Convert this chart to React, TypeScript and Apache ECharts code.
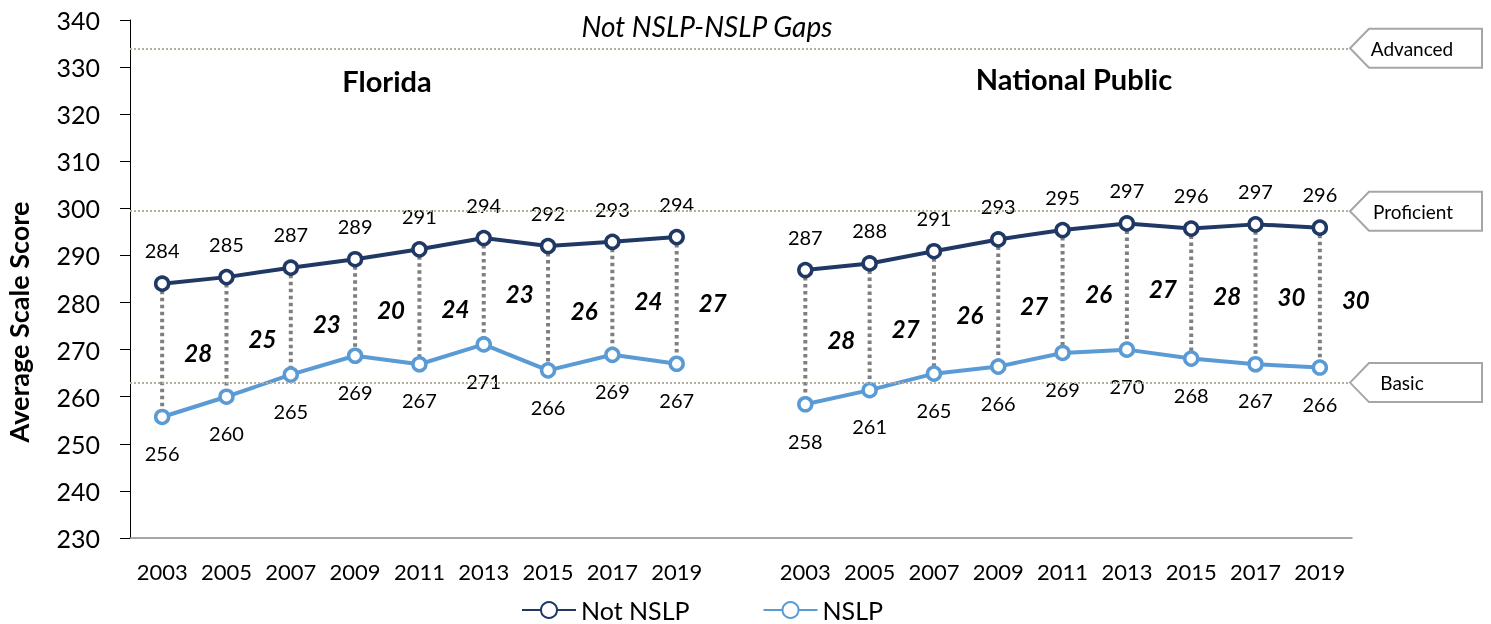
import React, { useEffect, useRef } from "react";
import * as echarts from "echarts";

const years = ["2003", "2005", "2007", "2009", "2011", "2013", "2015", "2017", "2019"];
const floridaNotNslp = [284.0, 285.4, 287.4, 289.2, 291.3, 293.7, 292.0, 292.9, 293.9];
const floridaNslp = [255.7, 260.0, 264.7, 268.7, 266.9, 271.1, 265.6, 268.9, 267.0];
const nationalNotNslp = [286.9, 288.3, 290.9, 293.4, 295.4, 296.8, 295.7, 296.6, 295.9];
const nationalNslp = [258.4, 261.4, 264.9, 266.4, 269.3, 270.0, 268.1, 266.9, 266.2];
const floridaGaps = [28, 25, 23, 20, 24, 23, 26, 24, 27];
const nationalGaps = [28, 27, 26, 27, 26, 27, 28, 30, 30];
const yMin = 230;
const yMax = 340;
const yInterval = 10;
const levelNames = ["Advanced", "Proficient", "Basic"];
const levelValues = [334, 299.4, 263];
const panelTitles = ["Florida", "National Public"];
const seriesNames = ["Not NSLP", "NSLP"];
const subtitle = "Not NSLP-NSLP Gaps";
const yTitle = "Average Scale Score";

const FONT = "Lato";
const NAVY = "#203864";
const LIGHT = "#5b9bd5";

export default function App() {
  const ref = useRef<HTMLDivElement>(null);
  useEffect(() => {
    if (!ref.current) return;
    const chart = echarts.init(ref.current, null, { renderer: "svg" });
    const categories = [...years, "", ...years];
    const notData = [...floridaNotNslp, null, ...nationalNotNslp];
    const nslpData = [...floridaNslp, null, ...nationalNslp];
    const gapData: any[] = [];
    years.forEach((_, i) => {
      gapData.push([i, floridaNotNslp[i], floridaNslp[i], floridaGaps[i]]);
    });
    years.forEach((_, i) => {
      gapData.push([years.length + 1 + i, nationalNotNslp[i], nationalNslp[i], nationalGaps[i]]);
    });

    const option: any = {
      animation: false,
      grid: { left: 130, right: 139, top: 20, bottom: 86 },
      legend: {
        data: seriesNames,
        left: 521,
        top: 597,
        padding: 0,
        itemWidth: 54,
        itemHeight: 20,
        itemGap: 73,
        textStyle: { fontFamily: FONT, fontSize: 25, color: "#000", lineHeight: 26 },
      },
      xAxis: {
        type: "category",
        data: categories,
        boundaryGap: true,
        axisLine: { lineStyle: { color: "#898989", width: 1.5 } },
        axisTick: { alignWithLabel: true, length: 6, interval: 0, lineStyle: { color: "#898989", width: 1.5 } },
        axisLabel: { interval: 0, margin: 22, fontFamily: FONT, fontSize: 22, color: "#000" },
      },
      yAxis: {
        type: "value",
        min: yMin,
        max: yMax,
        interval: yInterval,
        splitLine: { show: false },
        axisLine: { show: true, lineStyle: { color: "#000", width: 1 } },
        axisTick: { show: true, length: 10, lineStyle: { color: "#000" } },
        axisLabel: { margin: 30, fontFamily: FONT, fontSize: 25, color: "#000" },
      },
      series: [
        {
          type: "custom",
          name: "gaps",
          z: 1,
          silent: true,
          encode: { x: 0, y: [1, 2] },
          data: gapData,
          renderItem: (params: any, api: any) => {
            const x = api.value(0);
            const top = api.coord([x, api.value(1)]);
            const bot = api.coord([x, api.value(2)]);
            const w = api.size([1, 0])[0];
            return {
              type: "group",
              children: [
                {
                  type: "line",
                  shape: { x1: top[0], y1: top[1], x2: bot[0], y2: bot[1] },
                  style: { stroke: "#7f7f7f", lineWidth: 4, lineDash: [3.5, 3.5] },
                },
                {
                  type: "text",
                  x: top[0] + w * 0.56,
                  y: (top[1] + bot[1]) / 2 + 2,
                  style: {
                    text: String(api.value(3)),
                    fontFamily: FONT,
                    fontSize: 24,
                    fontWeight: "bold",
                    fontStyle: "italic",
                    fill: "#000",
                    align: "center",
                    verticalAlign: "middle",
                  },
                },
              ],
            };
          },
          markLine: {
            silent: true,
            symbol: "none",
            label: { show: false },
            lineStyle: { type: [2, 2], color: "#b5ad9d", width: 2 },
            data: levelValues.map((v) => ({ yAxis: v })),
          },
        },
        {
          type: "line",
          name: seriesNames[0],
          z: 3,
          data: notData,
          color: NAVY,
          symbol: "circle",
          symbolSize: 13,
          showAllSymbol: true,
          connectNulls: false,
          lineStyle: { color: NAVY, width: 4 },
          itemStyle: { color: "#fff", borderColor: NAVY, borderWidth: 3.5 },
          label: {
            show: true,
            position: "top",
            distance: 15,
            fontFamily: FONT,
            fontSize: 20,
            color: "#000",
            formatter: (p: any) => String(Math.round(p.value)),
          },
        },
        {
          type: "line",
          name: seriesNames[1],
          z: 3,
          data: nslpData,
          color: LIGHT,
          symbol: "circle",
          symbolSize: 13,
          showAllSymbol: true,
          connectNulls: false,
          lineStyle: { color: LIGHT, width: 4 },
          itemStyle: { color: "#fff", borderColor: LIGHT, borderWidth: 3.5 },
          label: {
            show: true,
            position: "bottom",
            distance: 18,
            fontFamily: FONT,
            fontSize: 20,
            color: "#000",
            formatter: (p: any) => String(Math.round(p.value)),
          },
        },
      ],
    };
    chart.setOption(option);

    const textX = [1412, 1413, 1402];
    const elements: any[] = [
      {
        type: "text",
        x: 18,
        y: 322,
        rotation: Math.PI / 2,
        style: { text: yTitle, fontFamily: FONT, fontSize: 27, fontWeight: "bold", fill: "#000", align: "center", verticalAlign: "middle" },
      },
      {
        type: "text",
        x: 707,
        y: 26,
        style: { text: subtitle, fontFamily: FONT, fontSize: 28, fontStyle: "italic", fill: "#000", align: "center", verticalAlign: "middle" },
      },
      {
        type: "text",
        x: 387,
        y: 80,
        style: { text: panelTitles[0], fontFamily: FONT, fontSize: 29, fontWeight: "bold", fill: "#000", align: "center", verticalAlign: "middle" },
      },
      {
        type: "text",
        x: 1074,
        y: 78,
        style: { text: panelTitles[1], fontFamily: FONT, fontSize: 29, fontWeight: "bold", fill: "#000", align: "center", verticalAlign: "middle" },
      },
    ];
    levelValues.forEach((v, i) => {
      const y = chart.convertToPixel({ yAxisIndex: 0 }, v) as number;
      const h = 19.5;
      elements.push({
        type: "polygon",
        z: 10,
        shape: { points: [[1350, y], [1369, y - h], [1482, y - h], [1482, y + h], [1369, y + h]] },
        style: { fill: "#fff", stroke: "#a6a6a6", lineWidth: 2 },
      });
      elements.push({
        type: "text",
        z: 11,
        x: textX[i],
        y: y,
        style: { text: levelNames[i], fontFamily: FONT, fontSize: 19, fill: "#000", align: "center", verticalAlign: "middle" },
      });
    });
    chart.setOption({ graphic: { elements } });

    return () => chart.dispose();
  }, []);
  return <div ref={ref} style={{ position: "fixed", left: 0, top: 0, width: 1491, height: 624 }} />;
}
